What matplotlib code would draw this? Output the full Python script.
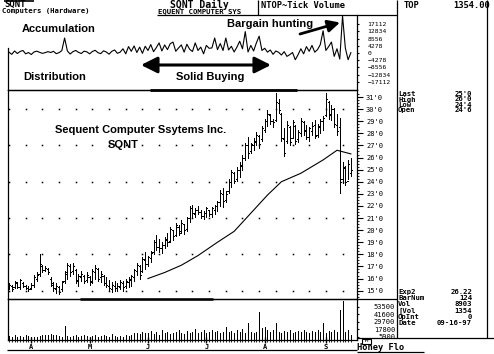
import matplotlib
matplotlib.use('Agg')
import matplotlib.pyplot as plt
from matplotlib.patches import Rectangle
import numpy as np

W, H = 494, 354

# daily bars, SQNT, late March .. 16 Sep 1997
high = [15.6, 15.5, 15.8, 15.7, 16.0, 15.7, 15.5, 15.4, 15.6, 16.3,
        16.5, 18.0, 17.1, 17.0, 16.9, 16.1, 15.7, 15.6, 15.4, 15.8,
        16.6, 17.3, 17.2, 17.3, 16.8, 16.4, 16.6, 16.3, 16.5, 16.2,
        16.8, 17.1, 16.9, 16.6, 16.3, 16.1, 15.9, 15.7, 15.8, 15.6,
        15.9, 15.8, 16.0, 16.1, 16.3, 16.8, 17.3, 17.1, 17.8, 18.2,
        17.9, 18.3, 19.2, 19.6, 19.3, 19.0, 19.4, 19.8, 20.3, 20.0,
        20.6, 20.4, 20.8, 20.5, 21.1, 22.0, 22.1, 21.8, 22.0, 21.7,
        21.6, 21.9, 21.7, 21.9, 22.1, 22.4, 23.3, 23.5, 23.2, 24.2,
        25.0, 24.8, 25.2, 25.6, 26.2, 27.2, 27.7, 27.2, 27.6, 28.1,
        27.9, 28.6, 29.2, 29.9, 29.6, 29.2, 31.3, 30.8, 29.7, 28.4,
        29.0, 28.6, 29.1, 28.7, 28.3, 29.3, 29.0, 28.7, 28.5, 28.9,
        29.1, 28.8, 29.2, 29.4, 31.3, 30.7, 30.3, 30.1, 29.6, 29.3,
        25.6, 25.3, 25.8, 26.0]
low = [15.1, 15.0, 15.2, 15.2, 15.1, 15.3, 15.1, 15.0, 15.1, 15.3,
       15.8, 16.2, 16.5, 16.6, 16.4, 15.4, 15.0, 14.8, 14.7, 15.0,
       15.6, 16.0, 16.2, 16.4, 15.6, 15.4, 15.8, 15.6, 15.7, 15.5,
       15.6, 16.0, 15.8, 15.7, 15.5, 15.3, 15.0, 14.9, 15.0, 15.0,
       15.1, 15.0, 15.2, 15.3, 15.4, 15.8, 16.3, 16.0, 16.5, 16.8,
       17.0, 17.4, 18.0, 18.4, 18.2, 18.1, 18.5, 18.7, 19.0, 19.2,
       19.5, 19.6, 19.8, 19.7, 19.9, 20.7, 21.0, 21.1, 21.3, 21.0,
       20.9, 21.1, 21.2, 21.1, 21.3, 21.6, 22.0, 21.9, 22.3, 23.1,
       23.6, 23.9, 24.1, 24.4, 25.0, 25.8, 26.0, 26.4, 26.6, 27.0,
       26.8, 27.4, 28.1, 28.6, 28.8, 28.5, 29.0, 29.7, 27.4, 26.1,
       27.2, 27.0, 27.6, 27.1, 27.3, 27.8, 27.9, 27.5, 27.4, 27.9,
       27.6, 27.7, 28.0, 28.3, 29.4, 29.2, 29.1, 28.5, 27.9, 23.1,
       23.9, 23.7, 24.2, 24.5]
opn = [15.2, 15.4, 15.3, 15.6, 15.3, 15.6, 15.4, 15.2, 15.2, 15.5,
       16.0, 16.4, 17.0, 16.7, 16.8, 16.0, 15.5, 15.1, 15.3, 15.1,
       15.8, 16.4, 17.0, 16.6, 16.7, 15.8, 16.1, 16.2, 15.9, 16.1,
       15.8, 16.5, 16.8, 16.1, 16.2, 15.6, 15.4, 15.1, 15.4, 15.2,
       15.3, 15.6, 15.4, 15.7, 15.9, 16.1, 16.6, 17.0, 16.6, 17.5,
       17.2, 17.7, 18.2, 19.0, 18.6, 18.5, 18.8, 19.2, 19.1, 20.0,
       19.6, 20.3, 19.9, 20.5, 20.1, 21.0, 21.8, 21.3, 21.7, 21.5,
       21.2, 21.4, 21.7, 21.3, 21.7, 22.0, 22.3, 23.0, 22.5, 23.2,
       24.0, 24.7, 24.2, 25.0, 25.3, 26.0, 27.0, 26.5, 27.0, 27.3,
       27.8, 27.5, 28.3, 29.0, 29.5, 29.0, 29.1, 30.5, 29.6, 27.5,
       27.4, 28.5, 27.6, 28.6, 27.5, 28.0, 28.9, 28.3, 27.7, 28.2,
       28.7, 27.9, 28.5, 29.0, 29.5, 30.6, 29.5, 30.0, 28.7, 28.5,
       24.2, 25.1, 24.1, 24.75]
close = [15.5, 15.1, 15.7, 15.3, 15.9, 15.4, 15.2, 15.1, 15.5, 16.1,
         16.3, 17.2, 16.7, 16.9, 16.5, 15.6, 15.2, 15.4, 14.9, 15.7,
         16.5, 17.1, 16.5, 17.0, 15.9, 16.2, 16.4, 15.8, 16.3, 15.7,
         16.6, 16.9, 16.0, 16.4, 15.6, 15.5, 15.2, 15.5, 15.2, 15.4,
         15.7, 15.3, 15.8, 16.0, 16.2, 16.7, 17.1, 16.3, 17.6, 17.2,
         17.8, 18.1, 19.0, 18.6, 18.5, 18.8, 19.3, 19.0, 20.1, 19.5,
         20.4, 19.8, 20.6, 20.0, 21.0, 21.8, 21.4, 21.7, 21.5, 21.2,
         21.4, 21.8, 21.3, 21.8, 22.0, 22.3, 23.1, 22.4, 23.0, 24.0,
         24.8, 24.1, 25.0, 25.4, 26.0, 27.0, 26.4, 27.1, 27.4, 27.9,
         27.1, 28.4, 29.0, 29.6, 29.0, 28.9, 30.6, 29.9, 27.6, 26.4,
         28.7, 27.3, 28.9, 27.4, 28.1, 29.0, 28.2, 27.7, 28.4, 28.6,
         27.8, 28.6, 29.0, 29.3, 30.8, 29.6, 30.0, 28.8, 28.2, 24.0,
         25.2, 24.0, 25.5, 25.0]
# volume in thousands of shares
volume = [7, 5, 8, 5, 7, 6, 9, 7, 6, 5,
          6, 7, 8, 9, 8, 10, 9, 8, 7, 6,
          23, 7, 6, 7, 8, 6, 7, 8, 7, 6,
          7, 9, 6, 7, 8, 7, 6, 10, 7, 6,
          7, 6, 8, 7, 9, 11, 12, 10, 13, 11,
          12, 15, 10, 13, 9, 16, 11, 14, 10, 12,
          13, 17, 11, 10, 15, 12, 14, 18, 11, 13,
          16, 12, 14, 17, 13, 15, 11, 14, 21, 13,
          15, 12, 16, 13, 18, 11, 27, 14, 12, 13,
          45, 19, 21, 17, 13, 16, 27, 14, 12, 15,
          13, 16, 12, 14, 15, 13, 16, 14, 12, 15,
          13, 17, 14, 27, 12, 15, 14, 16, 13, 48,
          62, 13, 16, 8.9]
# NTOP tick volume
tick_vol = [500, -800, 1200, -300, 900, 1500, -500, 300, -900, 600,
            1100, 400, -200, 200, 800, 300, 1000, -400, 200, 1400,
            8900,
            1200, -600, 800, 1500, 400, -300, 1100, 700, -500, 900,
            1600, 200, -400, 1300, 600, -700, 1000, 1800, -200, 500,
            2500, -500, 3800, 1000, 4200, 300, 3500, -200, 4000, 1500,
            5000, 800, 3200, 6000, 1200, 4800, 2000, 5500,
            6500, 1000, 3000, 4800, 500, 5200, 2200, 900, 6000, 1500,
            3500, -500, 4500, 2800,
            3000, 8900, 2000, 5600, 1500, 8900, 1800, 4000, 600, 3500,
            7000, 2500, 12700, 600, 4500, 1200, 6000, 10000, 1500, 2800,
            500, 1800, -800, 1200, 400, -1200, 800, -2000, -1000, 300,
            -4000, -1000, 2500, -500, 3800, 1000, 4500, 500, 2000, 5000,
            13200, 1500, 3800, 6500, -2000, 2500, -3600, 22000, 3000, -4000,
            200]
# exponential average (Exp2)
ma_bars = [50, 56, 62, 68, 75, 81, 87, 93, 98, 105, 113, 118, 123]
ma_vals = [16.0, 16.5, 17.1, 17.9, 19.0, 19.9, 21.4, 22.9, 24.0, 24.7, 25.8, 26.6, 26.3]

month_bars = [8, 29, 50, 71, 92, 114]
month_labels = ['A', 'M', 'J', 'J', 'A', 'S']
price_ticks = list(range(15, 32))
price_labels = ["%d'0" % p for p in price_ticks]
osc_ticks = [17112, 12834, 8556, 4278, 0, -4278, -8556, -12834, -17112]
vol_ticks = [53.5, 41.6, 29.7, 17.8, 5.9]
vol_labels = ['53500', '41600', '29700', '17800', '5900']

MONO = 'DejaVu Sans Mono'
SANS = 'Liberation Sans'
PX = 0.72  # one pixel in points

fig = plt.figure(figsize=(W / 100, H / 100), dpi=100)
fig.patch.set_facecolor('white')
bars = np.arange(len(high))


def panel(x0, y0, x1, y1):
    ax = fig.add_axes([x0 / W, 1 - y1 / H, (x1 - x0) / W, (y1 - y0) / H])
    ax.set_facecolor('none')
    ax.set_xlim(-0.36, 125.2)
    for s in ax.spines.values():
        s.set_linewidth(0.9)
    return ax


# --- tick volume oscillator
ax_osc = panel(8, 15, 357, 90)
ax_osc.plot(bars, tick_vol, color='black', lw=0.8)
ax_osc.set_ylim(-21978, 22572)
ax_osc.set_xticks([])
ax_osc.yaxis.tick_right()
ax_osc.set_yticks(osc_ticks)
ax_osc.set_yticklabels([str(v).replace('-', '\u2212') for v in osc_ticks])
ax_osc.tick_params(axis='y', length=1.5, width=0.8, pad=6, labelsize=4.6,
                   labelfontfamily=MONO)
ax_osc.spines['top'].set_visible(False)
ax_osc.spines['left'].set_bounds(-21978, 3000)

# --- price bars
ax_px = panel(8, 90, 357, 299)
ax_px.vlines(bars, low, high, color='black', lw=PX, antialiased=False)
ax_px.hlines(opn, bars - 0.4, bars, color='black', lw=PX, antialiased=False)
ax_px.hlines(close, bars, bars + 0.4, color='black', lw=PX, antialiased=False)
ax_px.plot(ma_bars, ma_vals, color='black', lw=0.8)
gx, gy = np.meshgrid(np.arange(0, 124, 6), np.arange(15, 31, 3))
ax_px.plot(gx.ravel(), gy.ravel(), linestyle='none', marker='s', markersize=1.1,
           markeredgewidth=0, color='black')
ax_px.set_ylim(14.31, 31.58)
ax_px.set_xticks([])
ax_px.yaxis.tick_right()
ax_px.set_yticks(price_ticks)
ax_px.set_yticklabels(price_labels)
ax_px.set_yticks(np.arange(14.5, 31.5, 0.25), minor=True)
ax_px.tick_params(axis='y', which='major', length=4.5, width=0.8, pad=2,
                  labelsize=5, labelfontfamily=MONO)
ax_px.tick_params(axis='y', which='minor', length=1.5, width=0.6)
ax_px.text(0.38, 0.81, 'Sequent Computer Ssytems Inc.', transform=ax_px.transAxes,
           ha='center', va='center', family=SANS, weight='bold', fontsize=8)
ax_px.text(0.33, 0.735, 'SQNT', transform=ax_px.transAxes,
           ha='center', va='center', family=SANS, weight='bold', fontsize=8)

# --- volume
ax_vol = panel(8, 299, 357, 340.4)
ax_vol.vlines(bars, 0, volume, color='black', lw=PX, antialiased=False)
ax_vol.set_ylim(0, 65.7)
ax_vol.set_xticks(month_bars)
ax_vol.set_xticklabels(month_labels)
ax_vol.set_xticks(bars, minor=True)
ax_vol.tick_params(axis='x', which='major', direction='inout', length=4, width=1,
                   pad=0.5, labelsize=5, labelfontfamily=MONO)
ax_vol.tick_params(axis='x', which='minor', direction='inout', length=3, width=0.6)
for lab in ax_vol.get_xticklabels():
    lab.set_fontweight('bold')
ax_vol.yaxis.tick_right()
ax_vol.set_yticks(vol_ticks)
ax_vol.set_yticklabels(vol_labels)
ax_vol.tick_params(axis='y', length=1.5, width=0.8, pad=26, labelsize=5,
                   labelfontfamily=MONO)
for lab in ax_vol.get_yticklabels():
    lab.set_ha('right')

# --- frame, header, info panel, notes (pixel coordinates)
bg = fig.add_axes([0, 0, 1, 1], zorder=5)
bg.set_xlim(0, W)
bg.set_ylim(H, 0)
bg.axis('off')


def line(xs, ys, lw=0.9):
    bg.plot(xs, ys, color='black', lw=lw, solid_capstyle='butt')


line([157, 397], [15, 15])
line([258, 258], [0, 15])
line([397, 397], [0, 338.3])
line([487, 487], [0, 338.3])
line([357, 494], [338.3, 338.3])
line([357, 397], [298.6, 298.6])
line([7, 357], [350, 350])
line([150, 297], [90, 90], lw=2)
line([80, 213], [299, 299], lw=1.8)


def txt(x, y, s, size=5, ha='left', weight='bold', family=MONO):
    bg.text(x, y, s, ha=ha, va='center', fontsize=size, family=family,
            weight=weight, color='black')


txt(4, 4, 'SQNT', size=6.5)
line([4, 34], [0.6, 0.6], lw=1.2)
txt(2, 11, 'Computers (Hardware)', size=5.2)
txt(170, 4.5, 'SQNT Daily', size=7)
txt(158, 11, 'EQUENT COMPUTER SYS', size=5.2)
txt(261, 5.5, 'NTOP~Tick Volume', size=6.3)
txt(404, 5.5, 'TOP', size=6.3)
txt(490, 5.5, '1354.00', size=6.3, ha='right')

info_top = [('Last', "25'0"), ('High', "26'0"), ('Low', "24'4"), ('Open', "24'6")]
for k, (name, val) in enumerate(info_top):
    txt(398, 93.5 + k * 5.6, name, size=5.2)
    txt(472, 93.5 + k * 5.6, val, size=5.2, ha='right')

info_bot = [('Exp2', '26.22'), ('BarNum', '124'), ('Vol', '8903'),
            ('[Vol', '1354'), ('OpInt', '0'), ('Date', '09-16-97')]
for k, (name, val) in enumerate(info_bot):
    txt(398, 292 + k * 6.2, name, size=5.2)
    txt(472, 292 + k * 6.2, val, size=5.2, ha='right')

bg.add_patch(Rectangle((362, 338.5), 9, 5, fill=False, lw=0.8))
txt(366.5, 341, 'M', size=4, ha='center')
txt(357, 348, 'Honey Flo', size=6.3)
line([357, 424], [352, 352])

bg.text(59, 29, 'Accumulation', ha='center', va='center', family=SANS,
        weight='bold', fontsize=8)
bg.text(55, 77.5, 'Distribution', ha='center', va='center', family=SANS,
        weight='bold', fontsize=8)
bg.text(210, 77.5, 'Solid Buying', ha='center', va='center', family=SANS,
        weight='bold', fontsize=8)
bg.text(270, 24, 'Bargain hunting', ha='center', va='center', family=SANS,
        weight='bold', fontsize=8)
bg.annotate('', xy=(271, 65), xytext=(141, 65),
            arrowprops=dict(arrowstyle='<|-|>,head_length=0.7,head_width=0.35',
                            lw=2.2, color='black', mutation_scale=14,
                            shrinkA=0, shrinkB=0))
bg.annotate('', xy=(340, 22.5), xytext=(300, 34),
            arrowprops=dict(arrowstyle='-|>,head_length=0.6,head_width=0.3',
                            lw=2, color='black', mutation_scale=12,
                            shrinkA=0, shrinkB=0))

fig.savefig('out.png', dpi=100, facecolor='white')
